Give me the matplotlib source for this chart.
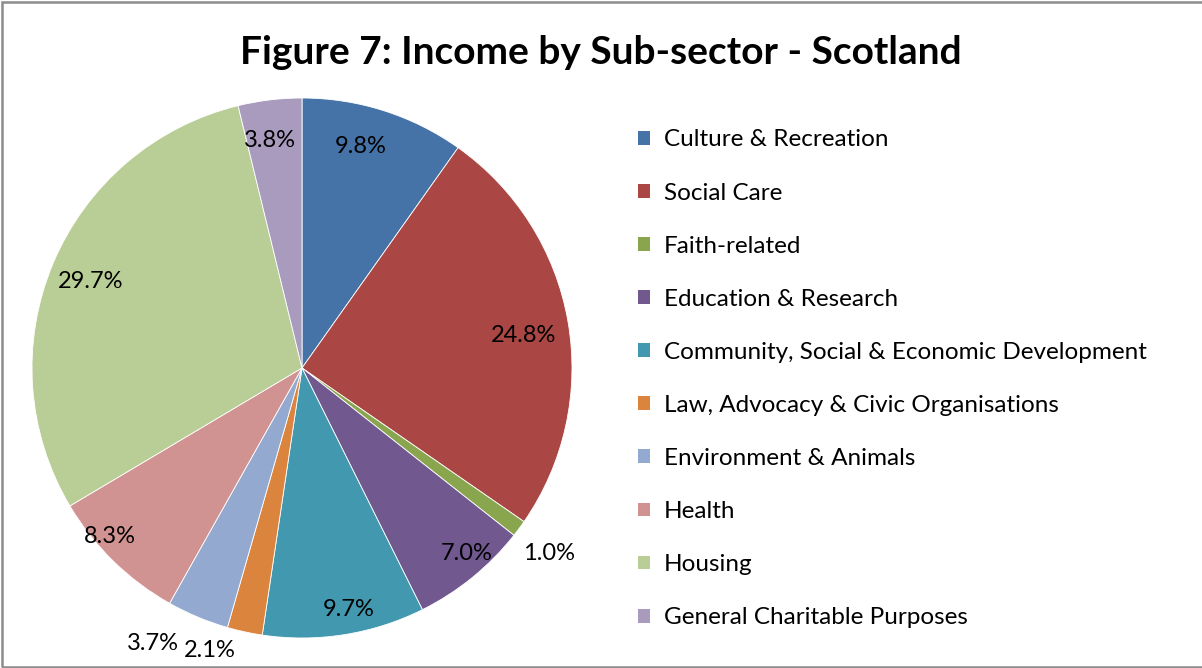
import matplotlib
matplotlib.use("Agg")
import matplotlib.pyplot as plt
import numpy as np
from matplotlib.patches import Patch, Rectangle

plt.rcParams['font.family'] = ['Lato', 'DejaVu Sans']

categories = ["Culture & Recreation", "Social Care", "Faith-related",
              "Education & Research", "Community, Social & Economic Development",
              "Law, Advocacy & Civic Organisations", "Environment & Animals",
              "Health", "Housing", "General Charitable Purposes"]
values = [9.8, 24.8, 1.0, 7.0, 9.7, 2.1, 3.7, 8.3, 29.7, 3.8]
colors = ["#4572A7", "#AA4643", "#89A54E", "#71588F", "#4198AF",
          "#DB843D", "#93A9CF", "#D19392", "#B9CD96", "#A99BBD"]
title = "Figure 7: Income by Sub-sector - Scotland"

# label placement styling: (radius fraction, angle offset deg)
label_r = [0.86, 0.83, 1.14, 0.91, 0.90, 1.09, 1.15, 0.94, 0.85, 0.86]
label_da = [3, -1, 0, 3, 2, -6, -6, -5, 0, 1]

W, H = 1202, 668
fig = plt.figure(figsize=(W / 100, H / 100), dpi=100)
fig.patch.set_facecolor("white")

cx, cy, R = 302, 368, 270
ax = fig.add_axes([(cx - R) / W, (H - cy - R) / H, 2 * R / W, 2 * R / H])
wedges, _ = ax.pie(values, colors=colors, startangle=90, counterclock=False,
                   radius=1.0, wedgeprops=dict(edgecolor="white", linewidth=0.6))
ax.set_xlim(-1, 1)
ax.set_ylim(-1, 1)
ax.set_aspect("equal")
ax.axis("off")

for w, v, rf, da in zip(wedges, values, label_r, label_da):
    ang = np.deg2rad((w.theta1 + w.theta2) / 2 + da)
    ax.annotate(f"{v:.1f}%", xy=(rf * np.cos(ang), rf * np.sin(ang)),
                xytext=(0, -2), textcoords="offset points",
                ha="center", va="center", fontsize=17, color="black",
                annotation_clip=False)

fig.text(0.5, 1 - 53 / H, title, ha="center", va="center", fontsize=28,
         fontweight="bold", color="black")

handles = [Patch(facecolor=c, edgecolor="none") for c in colors]
leg = fig.legend(handles, categories, loc="upper left",
                 bbox_to_anchor=(638 / W, 1 - 129.5 / H), frameon=False,
                 fontsize=17.5, handlelength=0.5, handleheight=0.5,
                 handletextpad=0.58, labelspacing=1.32, borderaxespad=0,
                 borderpad=0)

fig.patches.append(Rectangle((1.5 / W, 1.5 / H), 1.2, 1 - 3.5 / H, transform=fig.transFigure,
                             fill=False, edgecolor="#8c8c8c", linewidth=1.8))

fig.savefig("out.png", dpi=100, facecolor="white")
